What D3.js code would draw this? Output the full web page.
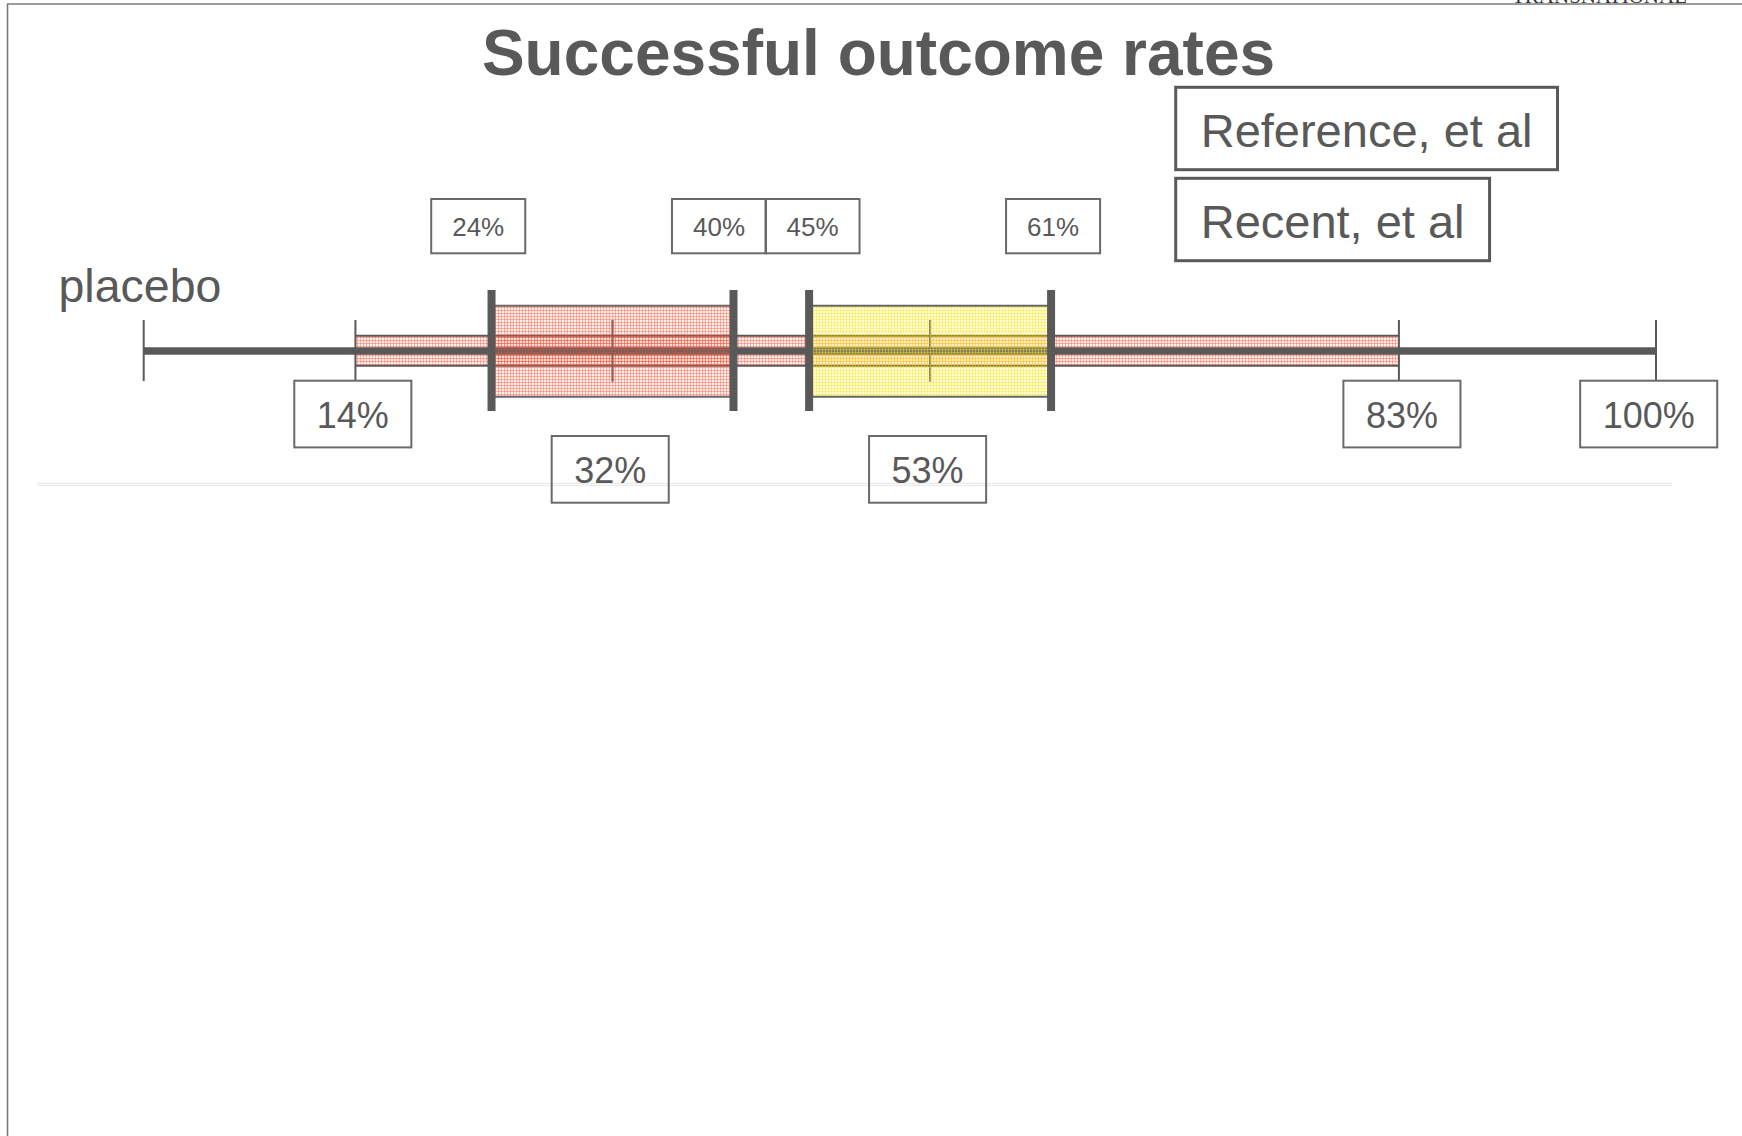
<!DOCTYPE html>
<html><head><meta charset="utf-8">
<script src="https://cdn.jsdelivr.net/npm/d3@7"></script>
<style>html,body{margin:0;padding:0;background:#fff;overflow:hidden}</style>
</head><body>
<svg id="c" width="1742" height="1136"></svg>
<script>
// ---------- data ----------
const chartTitle = "Successful outcome rates";
const rowLabel = "placebo";
const legendNames = ["Reference, et al", "Recent, et al"];
const placeboRange = [0, 100];          // full axis, thin end ticks
const wideRange = [14, 83];             // wide (thin) red band
const referenceBox = [23, 39];          // red box edges as drawn
const referenceMedian = 31;
const recentBox = [44, 60];             // yellow box edges as drawn
const recentMedian = 52;
const edgeLabels = ["24%", "40%", "45%", "61%"];
const medianLabels = ["32%", "53%"];
const endLabels = ["14%", "83%", "100%"];
const brand = "TRANSNATIONAL";

// ---------- layout ----------
const W = 1742, H = 1136;
const grey = "#595959";
const font = "'Liberation Sans', Arial, sans-serif";
const svg = d3.select("#c");
const x = d3.scaleLinear().domain([0, 100]).range([143.7, 1656]);
const yAxis = 351;

const defs = svg.append("defs");
function hatch(id, bg, bgOp, line, lineOp) {
  const p = defs.append("pattern").attr("id", id)
    .attr("patternUnits", "userSpaceOnUse").attr("width", 3).attr("height", 3);
  p.append("rect").attr("width", 3).attr("height", 3).attr("fill", bg).attr("fill-opacity", bgOp);
  p.append("rect").attr("width", 1).attr("height", 3).attr("fill", line).attr("fill-opacity", lineOp);
  p.append("rect").attr("y", 1).attr("width", 3).attr("height", 1).attr("fill", line).attr("fill-opacity", lineOp);
}
hatch("redHatch", "#ff8a70", 0.14, "#ff4a2a", 0.38);
hatch("yellowHatch", "#fff27a", 0.25, "#ffe000", 0.4);

// frame
svg.append("line").attr("x1", 7).attr("x2", W).attr("y1", 4).attr("y2", 4)
  .attr("stroke", "#7a7a7a").attr("stroke-width", 1.6);
svg.append("line").attr("x1", 7.5).attr("x2", 7.5).attr("y1", 4).attr("y2", H)
  .attr("stroke", "#7a7a7a").attr("stroke-width", 1.6);
svg.append("text").text(brand).attr("x", 1512).attr("y", 3)
  .attr("textLength", 175).attr("lengthAdjust", "spacingAndGlyphs")
  .attr("font-family", "'Liberation Serif', serif").attr("font-size", 20).attr("fill", "#333");

// title
svg.append("text").text(chartTitle).attr("x", 878.5).attr("y", 75)
  .attr("text-anchor", "middle").attr("font-family", font).attr("font-weight", "bold")
  .attr("font-size", 64).attr("fill", grey);

// legend boxes
const legendTops = [87.3, 178.3];
legendNames.forEach((name, i) => {
  const g = svg.append("g");
  const t = g.append("text").text(name).attr("x", 1200.7).attr("y", legendTops[i] + 59.4)
    .attr("font-family", font).attr("font-size", 47).attr("fill", grey);
  const w = t.node().getComputedTextLength();
  g.insert("rect", "text").attr("x", 1175.7).attr("y", legendTops[i])
    .attr("width", w + 50).attr("height", 82.4)
    .attr("fill", "none").attr("stroke", grey).attr("stroke-width", 3);
});

// row label
svg.append("text").text(rowLabel).attr("x", 58.5).attr("y", 301.5)
  .attr("font-family", font).attr("font-size", 46.5).attr("fill", grey);

// wide band
svg.append("rect").attr("x", x(wideRange[0])).attr("y", 335.7)
  .attr("width", x(wideRange[1]) - x(wideRange[0])).attr("height", 30)
  .attr("fill", "url(#redHatch)");
[335.7, 365.7].forEach(yy => svg.append("line")
  .attr("x1", x(wideRange[0])).attr("x2", x(wideRange[1])).attr("y1", yy).attr("y2", yy)
  .attr("stroke", grey).attr("stroke-width", 2));

// main line
svg.append("line").attr("x1", x(placeboRange[0])).attr("x2", x(placeboRange[1]))
  .attr("y1", yAxis).attr("y2", yAxis).attr("stroke", grey).attr("stroke-width", 7.5);

// thin ticks
[placeboRange[0], wideRange[0], wideRange[1], placeboRange[1]].forEach(v =>
  svg.append("line").attr("x1", x(v)).attr("x2", x(v)).attr("y1", 320).attr("y2", 381)
    .attr("stroke", grey).attr("stroke-width", 2));

// medians
[referenceMedian, recentMedian].forEach(v =>
  svg.append("line").attr("x1", x(v)).attr("x2", x(v)).attr("y1", 320).attr("y2", 381.7)
    .attr("stroke", grey).attr("stroke-width", 2.2));

// boxes
[[referenceBox, "redHatch"], [recentBox, "yellowHatch"]].forEach(([b, pat]) => {
  svg.append("rect").attr("x", x(b[0])).attr("y", 305.7)
    .attr("width", x(b[1]) - x(b[0])).attr("height", 91).attr("fill", `url(#${pat})`);
  [305.7, 396.7].forEach(yy => svg.append("line")
    .attr("x1", x(b[0])).attr("x2", x(b[1])).attr("y1", yy).attr("y2", yy)
    .attr("stroke", "#666").attr("stroke-width", 2));
});

// thick edge ticks
[...referenceBox, ...recentBox].forEach(v =>
  svg.append("line").attr("x1", x(v)).attr("x2", x(v)).attr("y1", 290).attr("y2", 411)
    .attr("stroke", grey).attr("stroke-width", 8));

// faint separator
[483.3, 485.3].forEach(yy => svg.append("line").attr("x1", 37).attr("x2", 1672)
  .attr("y1", yy).attr("y2", yy).attr("stroke", "#e6e6e6").attr("stroke-width", 1));

// value label boxes
function labelBox(text, cx, top, size, pad, height, base) {
  const g = svg.append("g");
  const t = g.append("text").text(text).attr("x", cx).attr("y", top + base)
    .attr("text-anchor", "middle").attr("font-family", font).attr("font-size", size).attr("fill", grey);
  const w = t.node().getComputedTextLength() + 2 * pad;
  g.insert("rect", "text").attr("x", cx - w / 2).attr("y", top).attr("width", w).attr("height", height)
    .attr("fill", "none").attr("stroke", "#6a6a6a").attr("stroke-width", 2);
}
const edgeNudge = [-13.3, -14.5, 3.4, 2];
edgeLabels.forEach((lab, i) =>
  labelBox(lab, x([...referenceBox, ...recentBox][i]) + edgeNudge[i], 199, 26, 21, 54.3, 37));
const medNudge = [-2.3, -2.5];
medianLabels.forEach((lab, i) =>
  labelBox(lab, x([referenceMedian, recentMedian][i]) + medNudge[i], 436, 36, 22.5, 66.7, 46.7));
const endNudge = [-2.6, 3, -7.3];
endLabels.forEach((lab, i) =>
  labelBox(lab, x([wideRange[0], wideRange[1], placeboRange[1]][i]) + endNudge[i], 380.7, 36, 22.5, 66.7, 47.6));
</script>
</body></html>
